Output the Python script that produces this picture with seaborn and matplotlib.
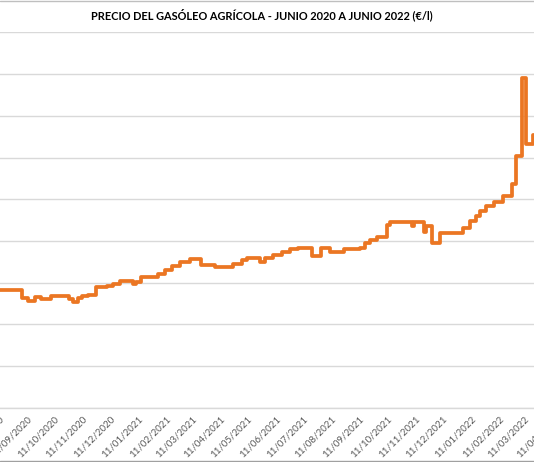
import numpy as np
import pandas as pd
import seaborn as sns
import matplotlib.pyplot as plt
import matplotlib.dates as mdates
from matplotlib.lines import Line2D

# step changes of the price (date the new level starts, €/l)
fechas = ['2020-08-01', '2020-09-06', '2020-09-12', '2020-09-20', '2020-09-26',
          '2020-10-07', '2020-10-27', '2020-11-01', '2020-11-06', '2020-11-10',
          '2020-11-17', '2020-11-26', '2020-12-08', '2020-12-14', '2020-12-22',
          '2021-01-05', '2021-01-09', '2021-01-14', '2021-02-02', '2021-02-09',
          '2021-02-17', '2021-02-26', '2021-03-09', '2021-03-21', '2021-04-05',
          '2021-04-25', '2021-05-05', '2021-05-10', '2021-05-25', '2021-05-30',
          '2021-06-08', '2021-06-18', '2021-06-27', '2021-07-05', '2021-07-21',
          '2021-07-31', '2021-08-09', '2021-08-25', '2021-09-11', '2021-09-17',
          '2021-09-22', '2021-09-30', '2021-10-11', '2021-10-14', '2021-11-07',
          '2021-11-10', '2021-11-21', '2021-11-23', '2021-11-30', '2021-12-08',
          '2022-01-02', '2022-01-10', '2022-01-17', '2022-01-21', '2022-01-28',
          '2022-02-06', '2022-02-15', '2022-02-25', '2022-03-02', '2022-03-08',
          '2022-03-13', '2022-03-20', '2022-03-28']
precio = [0.564, 0.528, 0.513, 0.529, 0.521,
          0.535, 0.521, 0.508, 0.525, 0.536,
          0.542, 0.577, 0.584, 0.593, 0.608,
          0.593, 0.603, 0.629, 0.641, 0.663,
          0.678, 0.699, 0.713, 0.684, 0.676,
          0.688, 0.708, 0.717, 0.700, 0.717,
          0.732, 0.745, 0.761, 0.764, 0.729,
          0.767, 0.748, 0.760, 0.767, 0.788,
          0.804, 0.820, 0.876, 0.892, 0.871,
          0.892, 0.844, 0.871, 0.788, 0.839,
          0.860, 0.895, 0.919, 0.943, 0.967,
          0.988, 1.015, 1.071, 1.207, 1.583,
          1.265, 1.308, 1.308]

df = pd.DataFrame({'fecha': pd.to_datetime(fechas), 'precio': precio})

sns.set_style('white')
plt.rcParams['font.family'] = ['Lato', 'DejaVu Sans']

W, H = 534, 462
fig = plt.figure(figsize=(W / 100, H / 100), dpi=100)

# the picture is a crop of a wider chart: place the axes so that
# 11/09/2020 falls at px 27 and 11/03/2022 at px 524.5
xmin, xmax = mdates.date2num(pd.Timestamp('2020-07-01')), mdates.date2num(pd.Timestamp('2022-04-30'))
a0, a1 = mdates.date2num(pd.Timestamp('2020-09-11')), mdates.date2num(pd.Timestamp('2022-03-11'))
ppd = (524.5 - 27) / (a1 - a0)
left_px = 27 - (a0 - xmin) * ppd
right_px = 27 + (xmax - a0) * ppd
bottom_px, top_px = 407.7, 32.5
ax = fig.add_axes([left_px / W, 1 - bottom_px / H,
                   (right_px - left_px) / W, (bottom_px - top_px) / H])

sns.lineplot(data=df, x='fecha', y='precio', ax=ax, color='#EB7623',
             linewidth=2.7, drawstyle='steps-post')

ax.set_xlim(xmin, xmax)
ax.set_ylim(0, 1.8)
ax.set_yticks(np.arange(0, 1.81, 0.2))
ax.yaxis.grid(True, color='#d9d9d9', linewidth=1)
ax.set_yticklabels([])
ax.tick_params(axis='y', length=0)
ax.set_xlabel('')
ax.set_ylabel('')

ax.xaxis.set_major_locator(mdates.MonthLocator(bymonthday=11))
ax.xaxis.set_major_formatter(mdates.DateFormatter('%d/%m/%Y'))
ax.tick_params(axis='x', length=4, width=1, color='#d9d9d9',
               labelsize=7, labelcolor='#595959', pad=1)
for lbl in ax.get_xticklabels():
    lbl.set_rotation(45)
    lbl.set_ha('right')
    lbl.set_va('top')
    lbl.set_rotation_mode('anchor')

for s in ['left', 'right', 'top']:
    ax.spines[s].set_visible(False)
ax.spines['bottom'].set_color('#d9d9d9')
ax.spines['bottom'].set_linewidth(1)

fig.text(262 / W, 1 - 15 / H,
         'PRECIO DEL GASÓLEO AGRÍCOLA - JUNIO 2020 A JUNIO 2022 (€/l)',
         ha='center', va='center', fontsize=7.9, fontweight='bold', color='#000000')

fig.add_artist(Line2D([0, 1], [1 - 0.5 / H, 1 - 0.5 / H], color='#bfbfbf', linewidth=1))
fig.add_artist(Line2D([0, 1], [1 - 461 / H, 1 - 461 / H], color='#a0a0a0', linewidth=1))

fig.savefig('out.png', dpi=100)
